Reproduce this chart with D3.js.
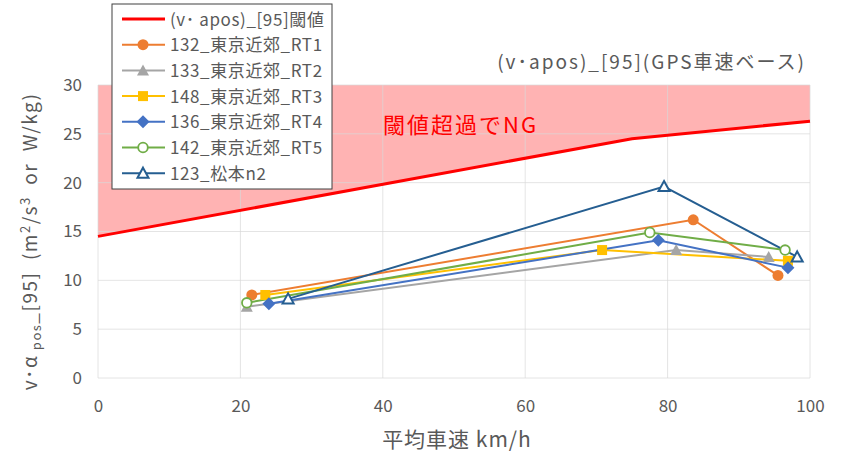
<!DOCTYPE html>
<html>
<head>
<meta charset="utf-8">
<script src="https://cdn.jsdelivr.net/npm/d3@7"></script>
<style>
  body { margin: 0; background: #fff; }
  text { font-family: "Noto Sans CJK JP", "Noto Sans", sans-serif; }
</style>
</head>
<body>
<div id="chart"></div>
<script>
// threshold curve (v·apos)_[95]
const limitSpeed = [0, 75, 100];
const limitValue = [14.5, 24.5, 26.3];

const seriesNames = ["132_東京近郊_RT1", "133_東京近郊_RT2", "148_東京近郊_RT3",
                     "136_東京近郊_RT4", "142_東京近郊_RT5", "123_松本n2"];
const speedRT1 = [21.6, 83.6, 95.5];
const valueRT1 = [8.5, 16.2, 10.5];
const speedRT2 = [20.9, 81.2, 94.2];
const valueRT2 = [7.3, 13.1, 12.4];
const speedRT3 = [23.5, 70.8, 96.9];
const valueRT3 = [8.5, 13.1, 12.0];
const speedRT4 = [24.0, 78.7, 96.9];
const valueRT4 = [7.6, 14.1, 11.3];
const speedRT5 = [20.9, 77.5, 96.5];
const valueRT5 = [7.7, 14.9, 13.1];
const speedN2 = [26.7, 79.5, 98.2];
const valueN2 = [8.1, 19.6, 12.4];

const xTicks = [0, 20, 40, 60, 80, 100];
const yTicks = [0, 5, 10, 15, 20, 25, 30];

const colors = ["#ED7D31", "#A5A5A5", "#FFC000", "#4472C4", "#70AD47", "#255E91"];
const markers = ["circle", "triangle", "square", "diamond", "ocircle", "otriangle"];

const series = [
    [speedRT1, valueRT1], [speedRT2, valueRT2], [speedRT3, valueRT3],
    [speedRT4, valueRT4], [speedRT5, valueRT5], [speedN2, valueN2]
].map(function (s, k) {
    return { name: seriesNames[k], color: colors[k], marker: markers[k],
             values: s[0].map((x, i) => ({ x: x, y: s[1][i] })) };
});

const W = 845, H = 454;
let margin = { top: 85, right: 35, bottom: 76, left: 98 };
let width = W - margin.left - margin.right;
let height = H - margin.top - margin.bottom;

const svg = d3.select("#chart").append("svg")
    .attr("width", W).attr("height", H);
const g = svg.append("g")
    .attr("transform", "translate(" + margin.left + "," + margin.top + ")");

let xScale = d3.scaleLinear().domain([0, 100]).range([0, width]);
let yScale = d3.scaleLinear().domain([0, 30]).range([height, 0]);

// pink NG zone above threshold
const limitPts = limitSpeed.map((x, i) => ({ x: x, y: limitValue[i] }));
const area = d3.area()
    .x(d => xScale(d.x))
    .y0(yScale(30))
    .y1(d => yScale(d.y));
g.append("path").datum(limitPts)
    .attr("d", area)
    .attr("fill", "#FFB3B3");

// grid
g.selectAll(".hgrid").data(yTicks).enter().append("line")
    .attr("x1", 0).attr("x2", width)
    .attr("y1", d => yScale(d)).attr("y2", d => yScale(d))
    .attr("stroke", "#D9D9D9").attr("stroke-width", 1)
    .attr("stroke-opacity", 0.7);
g.selectAll(".vgrid").data(xTicks).enter().append("line")
    .attr("y1", 0).attr("y2", height)
    .attr("x1", d => xScale(d)).attr("x2", d => xScale(d))
    .attr("stroke", "#D9D9D9").attr("stroke-width", 1)
    .attr("stroke-opacity", 0.7);

// axes (labels only)
let xAxis = d3.axisBottom(xScale).tickValues(xTicks).tickSize(0).tickPadding(22);
g.append("g").attr("transform", "translate(0," + height + ")").call(xAxis)
    .call(a => a.select(".domain").remove())
    .selectAll("text").style("font-size", "17px").attr("fill", "#595959");
let yAxis = d3.axisLeft(yScale).tickValues(yTicks).tickSize(0).tickPadding(16);
g.append("g").call(yAxis)
    .call(a => a.select(".domain").remove())
    .selectAll("text").style("font-size", "17px").attr("fill", "#595959");

// threshold line
let line = d3.line().x(d => xScale(d.x)).y(d => yScale(d.y));
g.append("path").datum(limitPts)
    .attr("d", line)
    .attr("fill", "none").attr("stroke", "#FF0000").attr("stroke-width", 3);

function drawMarker(sel, type, color) {
    if (type == "circle" || type == "ocircle") {
        sel.append("circle").attr("r", type == "circle" ? 5.5 : 4.8)
            .attr("fill", type == "circle" ? color : "#fff")
            .attr("stroke", color).attr("stroke-width", type == "circle" ? 0 : 1.8);
    } else if (type == "diamond") {
        sel.append("path").attr("d", "M0,-6.5L6.5,0L0,6.5L-6.5,0Z")
            .attr("fill", color);
    } else if (type == "square") {
        sel.append("rect").attr("x", -5).attr("y", -5)
            .attr("width", 10).attr("height", 10).attr("fill", color);
    } else {
        let open = type == "otriangle";
        sel.append("path")
            .attr("d", open ? "M0,-5.5L5.5,4.5L-5.5,4.5Z" : "M0,-6L6,5L-6,5Z")
            .attr("fill", open ? "#fff" : color)
            .attr("stroke", color).attr("stroke-width", open ? 2 : 0)
            .attr("stroke-linejoin", "miter");
    }
}

// series lines
g.selectAll("myLines").data(series).enter().append("path")
    .attr("d", d => line(d.values))
    .attr("fill", "none")
    .attr("stroke", d => d.color)
    .attr("stroke-width", 2);

// series points
series.forEach(function (s) {
    s.values.forEach(function (p) {
        let m = g.append("g")
            .attr("transform", "translate(" + xScale(p.x) + "," + yScale(p.y) + ")");
        drawMarker(m, s.marker, s.color);
    });
});

// NG annotation
svg.append("text")
    .attr("x", 383).attr("y", 133)
    .attr("fill", "#FF0000")
    .style("font-size", "22px")
    .style("letter-spacing", "2px")
    .text("閾値超過でNG");

// chart title
svg.append("text")
    .attr("x", 806).attr("y", 69)
    .attr("text-anchor", "end")
    .attr("fill", "#595959")
    .style("font-size", "19px")
    .style("letter-spacing", "2px")
    .text("(v･apos)_[95](GPS車速ベース)");

// axis titles
svg.append("text")
    .attr("x", 457).attr("y", 447)
    .attr("text-anchor", "middle")
    .attr("fill", "#595959")
    .style("font-size", "21px")
    .style("letter-spacing", "1px")
    .text("平均車速 km/h");

let ylab = svg.append("text")
    .attr("transform", "translate(37," + (margin.top + height / 2 + 10) + ") rotate(-90)")
    .attr("text-anchor", "middle")
    .attr("fill", "#595959")
    .style("font-size", "19px")
    .style("letter-spacing", "1.5px");
ylab.append("tspan").text("v･α");
ylab.append("tspan").attr("dy", 4).style("font-size", "13px").text("\u00a0pos");
ylab.append("tspan").attr("dy", -4).text("_[95]\u00a0\u00a0(m");
ylab.append("tspan").attr("dy", -7).style("font-size", "13px").text("2");
ylab.append("tspan").attr("dy", 7).text("/s");
ylab.append("tspan").attr("dy", -7).style("font-size", "13px").text("3");
ylab.append("tspan").attr("dy", 7).text("\u00a0\u00a0or\u00a0\u00a0W/kg)");

// legend
let legend = svg.append("g").attr("transform", "translate(112,4)");
legend.append("rect")
    .attr("width", 220).attr("height", 185)
    .attr("fill", "#fff").attr("stroke", "#404040").attr("stroke-width", 1);
let legendItems = [{ name: "(v･ apos)_[95]閾値", color: "#FF0000", marker: null }].concat(series);
legendItems.forEach(function (d, i) {
    let row = legend.append("g").attr("transform", "translate(0," + (15 + i * 25.7) + ")");
    row.append("line").attr("x1", 10).attr("x2", 53)
        .attr("stroke", d.color).attr("stroke-width", d.marker ? 2 : 3);
    if (d.marker) {
        let m = row.append("g").attr("transform", "translate(31,0)");
        drawMarker(m, d.marker, d.color);
    }
    row.append("text").attr("x", 58).attr("y", 6.5)
        .attr("fill", "#595959")
        .style("font-size", "17px")
        .style("letter-spacing", "0.6px")
        .text(d.name);
});
</script>
</body>
</html>
